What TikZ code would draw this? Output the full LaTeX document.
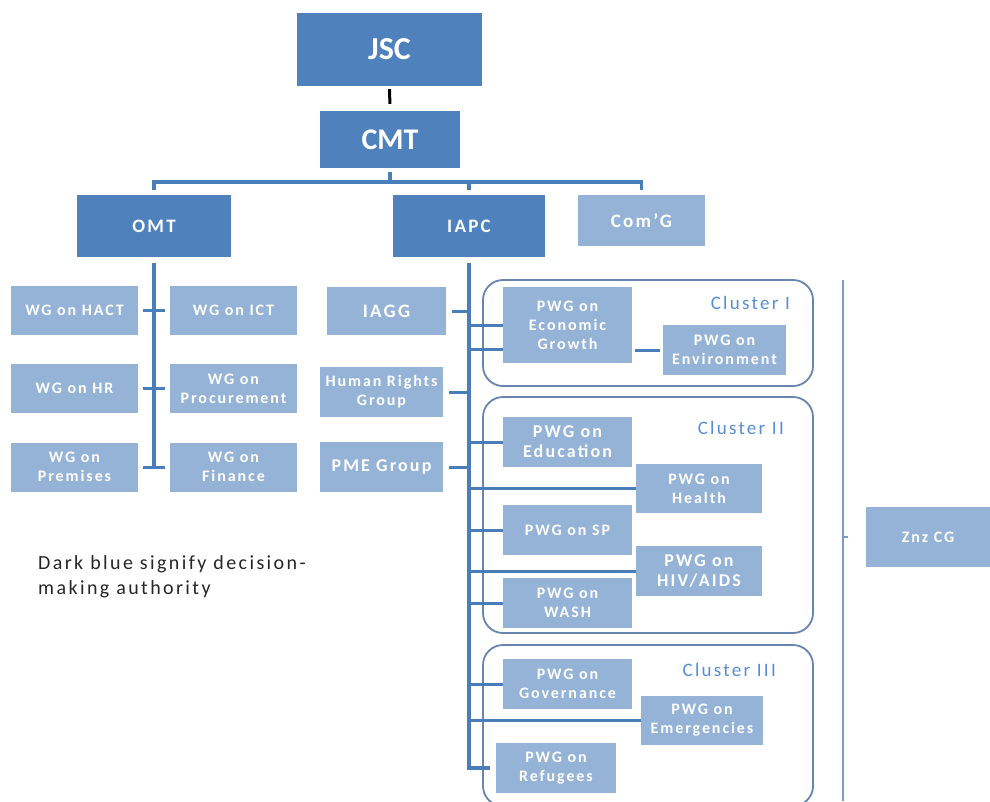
\documentclass[tikz,border=0pt]{standalone}
\usepackage{fontspec}
\setmainfont[LetterSpace=12]{Carlito}
\newfontfamily\plainfont{Carlito}
\usetikzlibrary{calc}
\definecolor{darkbox}{HTML}{4F81BD}
\definecolor{lightbox}{HTML}{95B3D7}
\definecolor{linkline}{HTML}{4A7EBB}
\definecolor{clusterline}{HTML}{6785AE}
\definecolor{clustertext}{HTML}{558ED5}
\definecolor{zbline}{HTML}{7A9CC6}

\begin{document}
\begin{tikzpicture}[x=1pt,y=-1pt,
    darknode/.style={fill=darkbox,text=white,inner sep=0pt,align=center,
      font=\bfseries\fontsize{19}{21}\selectfont},
    lightnode/.style={fill=lightbox,text=white,inner sep=0pt,align=center,
      font=\bfseries\fontsize{16}{19}\selectfont},
    sz/.style 2 args={minimum width=#1pt,minimum height=#2pt},
    bus/.style={draw=linkline,line width=3.5pt},
    trunk/.style={draw=linkline,line width=4pt},
    tick/.style={draw=linkline,line width=3pt},
    cluster/.style={draw=clusterline,line width=1.8pt,rounded corners=20pt},
    clusterlabel/.style={text=clustertext,anchor=east,inner sep=0pt,
      font=\fontsize{19}{21}\selectfont}]
            \fill[white] (0,0) rectangle (990,801);
            \useasboundingbox (0,0) rectangle (990,801);

            % clusters
            \draw[cluster] (483,280) rectangle (813,386);
            \draw[cluster] (483,397) rectangle (813,633);
            \draw[cluster] (483,645) rectangle (813,806);
            \node[clusterlabel] (cl_one) at (790,303) {Cluster I};
            \node[clusterlabel] (cl_two) at (784,428) {Cluster II};
            \node[clusterlabel] (cl_three) at (776,670) {Cluster III};

            % top
            \node[darknode,sz={185}{73},font=\plainfont\bfseries\fontsize{32}{34}\selectfont] (jsc) at (389.5,49.5) {JSC};
            \node[darknode,sz={140}{57},font=\plainfont\bfseries\fontsize{30}{32}\selectfont] (cmt) at (390,139.5) {CMT};
            \node[darknode,sz={154}{62}] (omt) at (154,226) {OMT};
            \node[darknode,sz={152}{62}] (iapc) at (469,226) {IAPC};
            \node[lightnode,sz={127}{51},font=\bfseries\fontsize{19}{21}\selectfont] (comg) at (641.5,220.5) {Com’G};

            % OMT groups
            \node[lightnode,sz={127}{49}] (wg_hact) at (74.5,310.5) {WG on HACT};
            \node[lightnode,sz={127}{49}] (wg_hr) at (74.5,388.5) {WG on HR};
            \node[lightnode,sz={127}{49}] (wg_prem) at (74.5,467) {WG on\\Premises};
            \node[lightnode,sz={127}{49}] (wg_ict) at (233.5,310.5) {WG on ICT};
            \node[lightnode,sz={127}{49}] (wg_proc) at (233.5,388.5) {WG on\\Procurement};
            \node[lightnode,sz={127}{49}] (wg_fin) at (233.5,467) {WG on\\Finance};

            % IAPC groups
            \node[lightnode,sz={119}{48},font=\bfseries\fontsize{19}{21}\selectfont] (iagg) at (386.5,311) {IAGG};
            \node[lightnode,sz={123}{50}] (hrg) at (381.5,392) {Human Rights\\Group};
            \node[lightnode,sz={123}{50},font=\bfseries\fontsize{18}{20}\selectfont] (pme) at (381.5,467) {PME Group};

            % PWGs
            \node[lightnode,sz={129}{76}] (pwg_econ) at (567.5,325) {PWG on\\Economic\\Growth};
            \node[lightnode,sz={123}{50}] (pwg_env) at (724.5,350) {PWG on\\Environment};
            \node[lightnode,sz={129}{50},font=\bfseries\fontsize{18}{20}\selectfont] (pwg_edu) at (567.5,442) {PWG on\\Education};
            \node[lightnode,sz={126}{49}] (pwg_health) at (699,488.5) {PWG on\\Health};
            \node[lightnode,sz={129}{50}] (pwg_sp) at (567.5,530) {PWG on SP};
            \node[lightnode,sz={126}{50},font=\bfseries\fontsize{18}{20}\selectfont] (pwg_hiv) at (699,571) {PWG on\\HIV/AIDS};
            \node[lightnode,sz={129}{50}] (pwg_wash) at (567.5,603) {PWG on\\WASH};
            \node[lightnode,sz={129}{50}] (pwg_gov) at (567.5,684) {PWG on\\Governance};
            \node[lightnode,sz={122}{49}] (pwg_emerg) at (702,720.5) {PWG on\\Emergencies};
            \node[lightnode,sz={120}{50}] (pwg_refug) at (556,768) {PWG on\\Refugees};

            \node[lightnode,sz={124}{60}] (znz) at (928,537) {Znz CG};

            \node[anchor=north west,align=left,inner sep=0pt,text=black!85,
              font=\fontsize{20}{25}\selectfont] (legend) at (38,555) {Dark blue signify decision-\\making authority};

            % links
            \draw[draw=black,line width=3pt,shorten <=3pt,shorten >=7pt] (jsc.south) -- (cmt.north);
            \coordinate (bus) at (390,182);
            \draw[bus,shorten <=4pt] (cmt.south) -- (bus);
            \draw[bus,shorten >=5pt] (bus) -| (omt.north);
            \draw[bus,shorten >=5pt] (bus) -| (iapc.north);
            \draw[bus,shorten >=5pt] (bus) -| (comg.north);

            \draw[trunk,shorten <=6pt] (omt.south) -- (omt.south |- wg_prem.east);
            \draw[tick,shorten <=5pt,shorten >=5pt] (wg_hact.east) -- (wg_ict.west);
            \draw[tick,shorten <=5pt,shorten >=5pt] (wg_hr.east) -- (wg_proc.west);
            \draw[tick,shorten <=5pt,shorten >=5pt] (wg_prem.east) -- (wg_fin.west);

            \draw[trunk,shorten <=6pt,shorten >=6pt] (iapc.south) -- (iapc.south |- pwg_refug.west) -- (pwg_refug.west);
            \draw[tick,shorten <=6pt] (iagg.east) -- (iagg.east -| iapc.south);
            \draw[tick,shorten <=6pt] (hrg.east) -- (hrg.east -| iapc.south);
            \draw[tick,shorten <=6pt] (pme.east) -- (pme.east -| iapc.south);

            \coordinate (econ_low) at ([yshift=-24pt]pwg_econ.west);
            \draw[tick] (iapc.south |- pwg_econ.west) -- (pwg_econ.west);
            \draw[tick] (iapc.south |- econ_low) -- (econ_low);
            \draw[tick,shorten <=3pt,shorten >=3pt] (pwg_econ.east |- pwg_env.west) -- (pwg_env.west);
            \draw[tick] (iapc.south |- pwg_edu.west) -- (pwg_edu.west);
            \draw[tick] (iapc.south |- pwg_health.west) -- (pwg_health.west);
            \draw[tick] (iapc.south |- pwg_sp.west) -- (pwg_sp.west);
            \draw[tick] (iapc.south |- pwg_hiv.west) -- (pwg_hiv.west);
            \draw[tick] (iapc.south |- pwg_wash.west) -- (pwg_wash.west);
            \draw[tick] (iapc.south |- pwg_gov.west) -- (pwg_gov.west);
            \draw[tick] (iapc.south |- pwg_emerg.west) -- (pwg_emerg.west);

            % Znz CG bracket
            \coordinate (zb_top) at (843,280);
            \coordinate (zb_bot) at (843,801);
            \draw[draw=zbline,line width=2pt] (zb_top) -- (zb_bot);
            \draw[draw=zbline,line width=2pt] (zb_top |- znz.west) -- ++(5,0);
          \end{tikzpicture}
\end{document}
